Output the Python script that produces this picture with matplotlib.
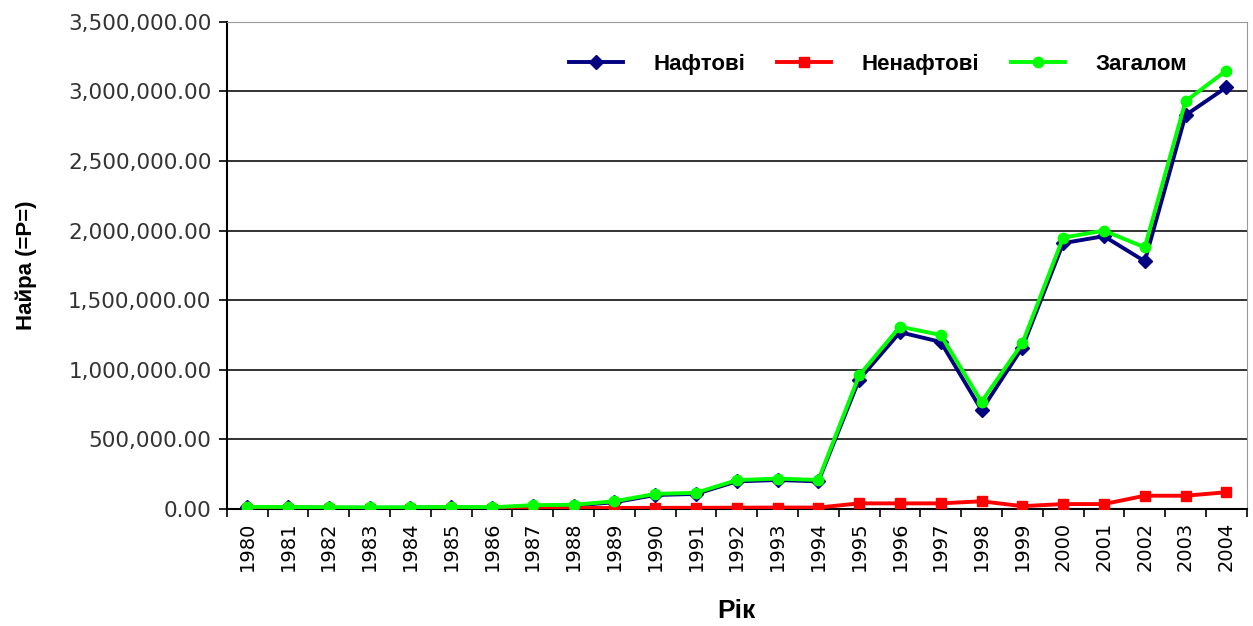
import matplotlib.pyplot as plt
from matplotlib.ticker import FuncFormatter, FixedLocator

years = list(range(1980, 2005))

oil = [12000, 11000, 9000, 8000, 9000, 12000, 9000, 20000, 24000, 48000,
       100000, 108000, 198000, 208000, 198000, 930000, 1270000, 1200000, 710000, 1160000,
       1910000, 1960000, 1780000, 2830000, 3030000]
non_oil = [3000, 3000, 3000, 3000, 3000, 3000, 3000, 5000, 6000, 7000,
           8000, 8000, 9000, 10000, 10000, 40000, 40000, 40000, 55000, 20000,
           35000, 35000, 95000, 95000, 120000]
total = [15000, 14000, 12000, 11000, 12000, 15000, 12000, 27000, 30000, 55000,
         108000, 116000, 207000, 218000, 208000, 960000, 1310000, 1250000, 770000, 1190000,
         1950000, 2000000, 1880000, 2930000, 3150000]

yticks = [0, 500000, 1000000, 1500000, 2000000, 2500000, 3000000, 3500000]

plt.rcParams['font.family'] = ['Liberation Sans', 'DejaVu Sans']

fig = plt.figure(figsize=(12.53, 6.26), dpi=100)
ax = fig.add_axes([0.181, 0.187, 0.814, 0.778])

x = list(range(len(years)))
ax.plot(x, oil, color='#000080', lw=2.8, marker='D', ms=7, label='Нафтові', zorder=3)
ax.plot(x, non_oil, color='#FF0000', lw=2.8, marker='s', ms=7.5, label='Ненафтові', zorder=3)
ax.plot(x, total, color='#00FF00', lw=2.8, marker='o', ms=7.5, label='Загалом', zorder=4)

ax.set_xlim(-0.5, len(years) - 0.5)
ax.set_ylim(0, 3500000)
ax.set_yticks(yticks)
ax.yaxis.set_major_formatter(FuncFormatter(lambda v, p: f'{v:,.2f}'))
ax.tick_params(axis='y', labelsize=15.5, length=6, width=1.2, pad=5,
               colors='black', labelcolor='#333333')
for t in ax.get_yticklabels():
    t.set_family('DejaVu Sans')

ax.set_xticks(x)
ax.set_xticklabels([str(y) for y in years], rotation=90, fontsize=14, family='DejaVu Sans')
ax.tick_params(axis='x', length=0, pad=9)
ax.xaxis.set_minor_locator(FixedLocator([i - 0.5 for i in range(len(years) + 1)]))
ax.tick_params(axis='x', which='minor', length=6, width=1.2)

ax.grid(axis='y', color='#222222', lw=1.3)
for s in ['top', 'right']:
    ax.spines[s].set_color('#999999')
for s in ['left', 'bottom']:
    ax.spines[s].set_linewidth(1.5)

ax.set_ylabel('Найра (=P=)', fontsize=16, fontweight='bold', labelpad=22)
ax.set_xlabel('Рік', fontsize=19, fontweight='bold', labelpad=20)

ax.legend(loc='upper right', bbox_to_anchor=(0.961, 0.975), ncol=3, frameon=False,
          prop={'size': 16, 'weight': 'bold'}, handlelength=2.45, handletextpad=1.35,
          columnspacing=1.43)

fig.savefig('out.png', dpi=100)
